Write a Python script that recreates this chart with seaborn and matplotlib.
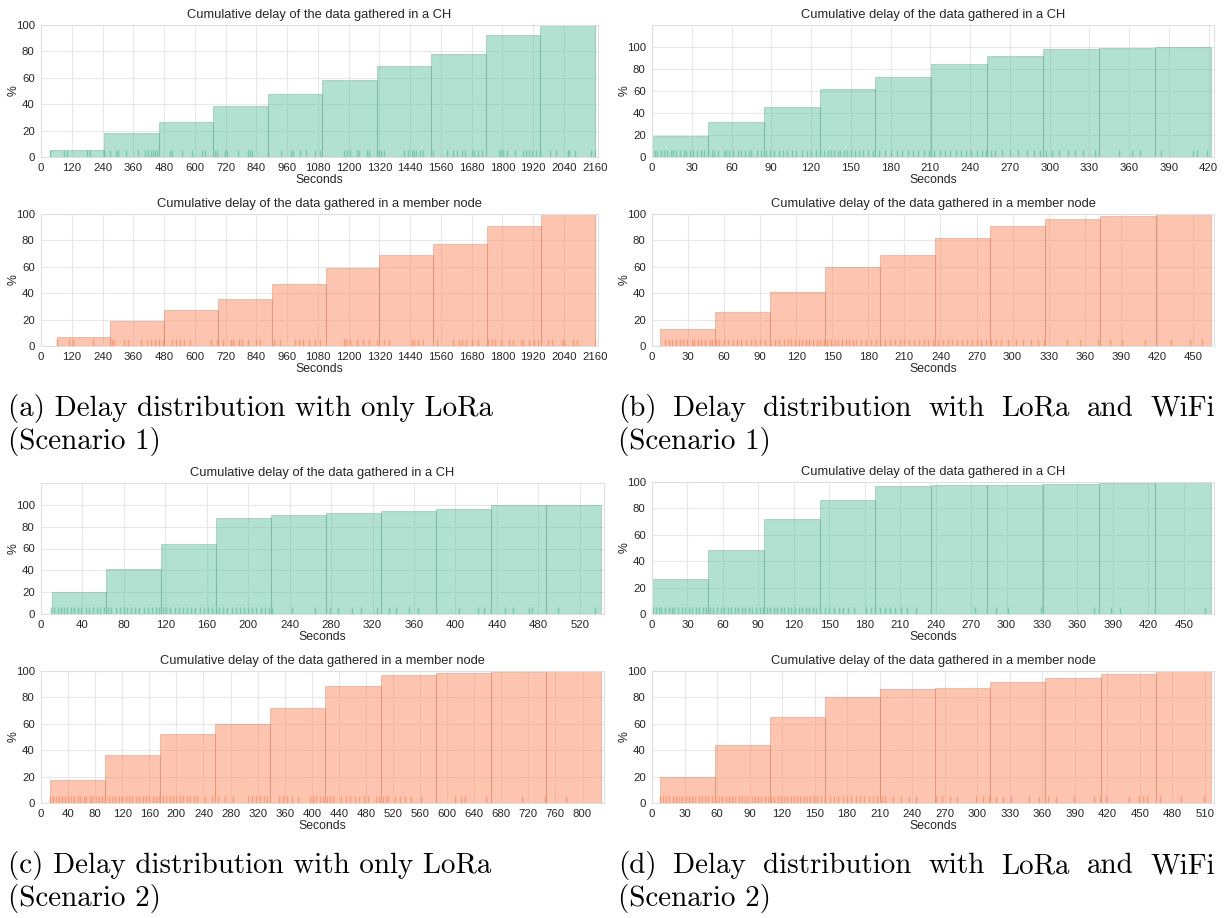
import numpy as np
import pandas as pd
import matplotlib
matplotlib.use("Agg")
import matplotlib.pyplot as plt
import seaborn as sns

# ---- data ----
# (first bin edge, last bin edge), cumulative % per bin (10 bins), rug positions (s)
a_ch_range = (35, 2160)
a_ch_cum = [5.6, 18.5, 26.5, 38.5, 48, 58, 69, 78, 92.4, 100]
a_ch_rug = [35, 88, 103, 179, 191, 244, 270, 293, 301, 331, 380, 407, 419, 430, 437, 445, 452,
            505, 513, 551, 589, 627, 638, 680, 688, 718, 726, 767, 809, 817, 824, 885, 935, 976,
            984, 1011, 1034, 1067, 1087, 1181, 1193, 1204, 1234, 1242, 1272, 1280, 1310, 1318,
            1325, 1340, 1416, 1431, 1447, 1454, 1462, 1477, 1492, 1530, 1583, 1606, 1621, 1644,
            1656, 1682, 1690, 1705, 1720, 1788, 1796, 1803, 1819, 1849, 1879, 1894, 1902, 1917,
            1932, 1948, 1986, 2008, 2054, 2061, 2084, 2145, 2160]

a_mn_range = (61, 2160)
a_mn_cum = [6.8, 19, 27.3, 35.9, 47.2, 59.3, 69.2, 77.5, 91.2, 100]
a_mn_rug = [61, 111, 126, 202, 278, 285, 323, 338, 392, 414, 430, 445, 460, 475, 513, 528, 543,
            559, 581, 665, 688, 710, 741, 748, 771, 786, 809, 839, 855, 908, 931, 991, 1006, 1022,
            1044, 1067, 1090, 1181, 1189, 1204, 1234, 1257, 1280, 1310, 1340, 1356, 1447, 1454,
            1469, 1492, 1545, 1606, 1629, 1644, 1659, 1682, 1705, 1743, 1758, 1773, 1796, 1826,
            1841, 1872, 1879, 1902, 1925, 1940, 1978, 1993, 2031, 2039, 2077, 2092, 2160]

b_ch_range = (0, 421.5)
b_ch_cum = [18.9, 31.7, 45.7, 61.9, 72.6, 84.1, 91.5, 97.9, 99.4, 100]
b_ch_rug = [0, 2, 4, 7, 9, 11, 14, 16, 18, 21, 24, 26, 29, 31, 34, 37, 39, 42, 45, 47, 50, 54,
            56, 58, 61, 65, 67, 70, 73, 75, 79, 82, 86, 89, 92, 96, 99, 102, 106, 109, 113, 117,
            120, 124, 127, 130, 133, 135, 137, 140, 142, 145, 147, 150, 153, 156, 159, 163, 167,
            171, 176, 180, 185, 189, 193, 197, 201, 205, 209, 213, 217, 221, 225, 229, 233, 237,
            241, 245, 249, 252, 256, 259, 264, 270, 276, 283, 288, 293, 297, 302, 307, 314, 319,
            325, 334, 352, 362, 368, 384, 408, 411, 419]

b_mn_range = (6.5, 464.8)
b_mn_cum = [13.1, 26, 40.7, 59.8, 69.2, 81.8, 91.2, 96.2, 98.2, 100]
b_mn_rug = [11, 14, 17, 20, 23, 26, 29, 33, 35, 38, 41, 44, 48, 50, 53, 56, 60, 63, 67, 71, 74,
            78, 82, 86, 90, 94, 98, 102, 106, 110, 113, 116, 119, 122, 125, 128, 131, 134, 137,
            140, 143, 146, 149, 152, 155, 158, 161, 164, 167, 170, 174, 178, 182, 186, 190, 194,
            198, 202, 206, 210, 214, 218, 222, 226, 230, 234, 238, 242, 246, 250, 254, 258, 262,
            266, 270, 274, 278, 282, 286, 290, 296, 303, 309, 315, 321, 326, 345, 356, 371, 381,
            391, 410, 432, 448, 458]

c_ch_range = (10.2, 540.2)
c_ch_cum = [20.1, 40.9, 64.3, 87.5, 90.9, 92.1, 94.8, 96.3, 99.4, 100]
c_ch_rug = [10, 13, 16, 19, 22, 25, 29, 32, 36, 39, 43, 46, 50, 54, 57, 61, 65, 68, 72, 76, 80,
            83, 87, 91, 95, 99, 103, 107, 111, 114, 118, 121, 125, 129, 133, 137, 141, 145, 149,
            153, 157, 161, 165, 169, 172, 176, 180, 184, 188, 192, 196, 200, 204, 208, 212, 216,
            220, 223, 242, 264, 279, 287, 300, 309, 324, 336, 343, 355, 364, 403, 422, 428, 448,
            456, 471, 474, 499, 535]

c_mn_range = (13.8, 826.8)
c_mn_cum = [17.8, 36, 52.3, 60.2, 72.3, 88.3, 96.7, 98.7, 99.2, 100]
c_mn_rug = [14, 18, 22, 27, 31, 36, 40, 45, 49, 54, 58, 63, 67, 72, 76, 81, 85, 90, 95, 100, 105,
            110, 115, 120, 125, 130, 135, 140, 145, 150, 155, 160, 165, 170, 175, 180, 185, 190,
            195, 200, 205, 210, 215, 220, 226, 231, 243, 252, 262, 272, 283, 306, 312, 318, 324,
            329, 334, 351, 358, 364, 371, 380, 397, 402, 407, 412, 417, 422, 427, 432, 443, 450,
            457, 464, 470, 477, 483, 495, 500, 505, 509, 512, 523, 531, 538, 546, 561, 612, 620,
            627, 658, 710, 744, 776]

d_ch_range = (0, 472.7)
d_ch_cum = [26.3, 48.6, 71.9, 86.1, 96.7, 97.5, 98, 98.7, 99.5, 100]
d_ch_rug = [1, 3, 6, 8, 11, 14, 17, 19, 22, 25, 28, 31, 34, 37, 40, 43, 46, 49, 52, 55, 58, 61,
            64, 67, 70, 73, 76, 79, 82, 85, 88, 91, 94, 97, 100, 103, 106, 109, 112, 115, 118, 121,
            124, 127, 130, 133, 136, 139, 142, 146, 150, 154, 158, 162, 166, 171, 181, 185, 189,
            193, 197, 201, 206, 211, 216, 223, 273, 291, 301, 329, 374, 388, 396, 468]

d_mn_range = (7.3, 515.4)
d_mn_cum = [19.7, 44.2, 65.2, 80.3, 86.4, 87.4, 91.7, 94.9, 97.7, 100]
d_mn_rug = [7, 10, 13, 16, 19, 22, 25, 28, 31, 34, 37, 40, 43, 46, 49, 52, 55, 58, 62, 65, 68, 71,
            74, 77, 80, 83, 86, 89, 92, 95, 98, 101, 104, 107, 110, 113, 116, 119, 122, 125, 128,
            131, 134, 137, 140, 143, 146, 149, 152, 156, 160, 164, 168, 172, 176, 180, 184, 188,
            192, 196, 200, 204, 208, 212, 215, 222, 230, 237, 244, 262, 268, 275, 281, 299, 305,
            311, 317, 324, 331, 348, 357, 365, 373, 389, 408, 413, 419, 440, 449, 453, 457, 469,
            488, 509]

title_ch = "Cumulative delay of the data gathered in a CH"
title_mn = "Cumulative delay of the data gathered in a member node"

captions = {
    "a": ("(a) Delay distribution with only LoRa", "(Scenario 1)"),
    "b": ("(b) Delay distribution with LoRa and WiFi", "(Scenario 1)"),
    "c": ("(c) Delay distribution with only LoRa", "(Scenario 2)"),
    "d": ("(d) Delay distribution with LoRa and WiFi", "(Scenario 2)"),
}

# ---- style ----
sns.set_style("whitegrid", {"grid.color": ".91", "axes.edgecolor": ".88"})
plt.rcParams["font.family"] = ["Liberation Sans", "DejaVu Sans"]
plt.rcParams["text.color"] = ".15"
plt.rcParams["axes.labelcolor"] = ".15"
plt.rcParams["xtick.color"] = ".15"
plt.rcParams["ytick.color"] = ".15"

green, orange = sns.color_palette("Set2")[:2]
W, H = 1226, 918
fig = plt.figure(figsize=(W / 100, H / 100), dpi=100)


def rect(l, t, r, b):
    return [l / W, 1 - b / H, (r - l) / W, (b - t) / H]


def draw(box, rng, cum, rug, color, title, step, ytop):
    ax = fig.add_axes(rect(*box))
    edges = [float(e) for e in np.linspace(rng[0], rng[1], len(cum) + 1)]
    mids = [(lo + hi) / 2 for lo, hi in zip(edges[:-1], edges[1:])]
    bins_df = pd.DataFrame({"t": mids, "pct": cum})
    edge = tuple(c * 0.75 for c in color) + (0.3,)
    sns.histplot(data=bins_df, x="t", weights="pct", bins=edges, color=color, alpha=0.5,
                 edgecolor=edge, linewidth=0.8, ax=ax)
    sns.rugplot(x=np.array(rug, dtype=float), height=0.05, color=color, alpha=0.75, lw=1, ax=ax)
    ax.set_xlim(0, rng[1] * 1.006)
    ax.set_ylim(0, ytop)
    ax.set_xticks(np.arange(0, rng[1] + 1, step))
    ax.set_yticks(np.arange(0, 101, 20))
    ax.tick_params(labelsize=8.2, pad=1)
    ax.set_title(title, fontsize=9.3, pad=5)
    ax.set_xlabel("Seconds", fontsize=8.8, labelpad=0.5)
    ax.set_ylabel("%", fontsize=8.8, labelpad=-3)
    return ax


draw((41, 25, 598, 157), a_ch_range, a_ch_cum, a_ch_rug, green, title_ch, 120, 100)
draw((41, 214, 598, 346), a_mn_range, a_mn_cum, a_mn_rug, orange, title_mn, 120, 100)
draw((652, 25, 1214, 157), b_ch_range, b_ch_cum, b_ch_rug, green, title_ch, 30, 120)
draw((652, 214, 1214, 346), b_mn_range, b_mn_cum, b_mn_rug, orange, title_mn, 30, 100)
draw((41, 483, 604, 614), c_ch_range, c_ch_cum, c_ch_rug, green, title_ch, 40, 120)
draw((41, 671, 604, 803), c_mn_range, c_mn_cum, c_mn_rug, orange, title_mn, 40, 100)
draw((652, 482, 1214, 614), d_ch_range, d_ch_cum, d_ch_rug, green, title_ch, 30, 100)
draw((652, 671, 1214, 803), d_mn_range, d_mn_cum, d_mn_rug, orange, title_mn, 30, 100)

# ---- captions (LaTeX-like serif) ----
cap_kw = dict(family="cmr10", fontsize=20.9, color="black", va="baseline")
renderer = fig.canvas.get_renderer()


def caption(key, x0, x1, y, justify):
    line1, line2 = captions[key]
    if justify:
        words = line1.split()
        texts = [fig.text(0, 0, w, **cap_kw) for w in words]
        widths = [t.get_window_extent(renderer).width for t in texts]
        gap = (x1 - x0 - sum(widths)) / (len(words) - 1)
        x = x0
        for t, w in zip(texts, widths):
            t.set_position((x / W, 1 - y / H))
            x += w + gap
    else:
        fig.text(x0 / W, 1 - y / H, line1, **cap_kw)
    fig.text(x0 / W, 1 - (y + 33) / H, line2, **cap_kw)


caption("a", 8, 493, 416, False)
caption("b", 618, 1215, 416, True)
caption("c", 8, 493, 873, False)
caption("d", 618, 1215, 873, True)

fig.savefig("out.png", dpi=100)
